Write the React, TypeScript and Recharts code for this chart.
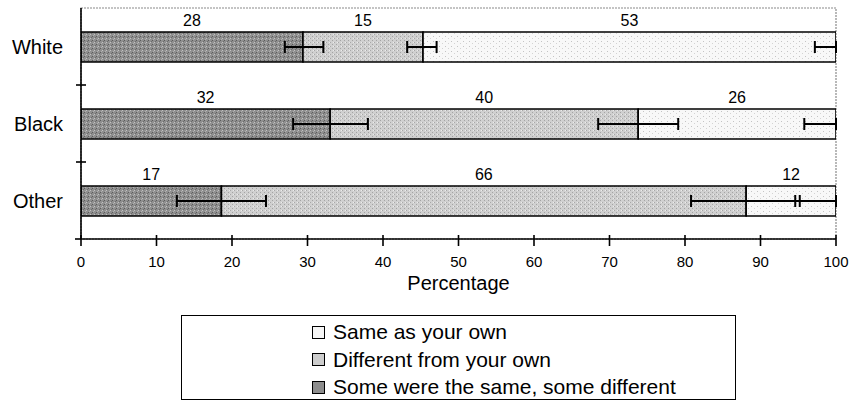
import React from 'react';
import { BarChart, Bar, XAxis, YAxis, ErrorBar, LabelList, ReferenceArea } from 'recharts';

const categories = ['White', 'Black', 'Other'];
const seriesNames = ['Some were the same, some different', 'Different from your own', 'Same as your own'];
// plotted share (%) of each segment
const someSame = [29.4, 33.0, 18.6];
const different = [15.9, 40.8, 69.5];
const sameAsOwn = [54.7, 26.2, 11.9];
// numbers printed above each segment
const someSameLabels = [28, 32, 17];
const differentLabels = [15, 40, 66];
const sameAsOwnLabels = [53, 26, 12];
// error bar extents [minus, plus] around each segment end
const someSameErr = [[2.4, 2.7], [4.9, 5.0], [5.9, 5.9]];
const differentErr = [[2.1, 1.8], [5.3, 5.3], [7.3, 7.1]];
const sameAsOwnErr = [[2.8, 0], [4.2, 0], [5.4, 0]];
const xTicks = [0, 10, 20, 30, 40, 50, 60, 70, 80, 90, 100];

const data = categories.map((name, i) => ({
  name,
  s0: someSame[i],
  s1: different[i],
  s2: sameAsOwn[i],
  l0: someSameLabels[i],
  l1: differentLabels[i],
  l2: sameAsOwnLabels[i],
  e0: someSameErr[i],
  e1: differentErr[i],
  e2: sameAsOwnErr[i],
}));

const W = 850;
const H = 402;
const MARGIN = { top: 8, right: 14, left: 0, bottom: 103 };
const XAXIS_H = 60;
const YAXIS_W = 81;
const X_TICK_SIZE = 6;
const X_TICK_MARGIN = 11;
const Y_TICK_SIZE = 6;
const Y_TICK_MARGIN = 12;
const plotH = H - MARGIN.top - MARGIN.bottom - XAXIS_H;
const bandHalf = plotH / categories.length / 2;

const fills = ['url(#pDark)', 'url(#pMid)', 'url(#pLight)'];
const swatch = ['#8d8d8d', '#cdcdcd', '#f6f6f6'];

const XTick = (props: any) => {
  const { x, y, payload, index } = props;
  const axisY = y - X_TICK_SIZE - X_TICK_MARGIN;
  return (
    <g>
      <line x1={x} x2={x} y1={axisY - 4} y2={axisY + 7} stroke="#000" strokeWidth={1.6} />
      {index === 0 && <line x1={x - 6} x2={x} y1={axisY} y2={axisY} stroke="#000" strokeWidth={1.6} />}
      <text x={x} y={y} dy="0.71em" textAnchor="middle" fontSize={15} fill="#000">
        {payload.value}
      </text>
    </g>
  );
};

const YTick = (props: any) => {
  const { x, y, payload, index } = props;
  const axisX = x + Y_TICK_SIZE + Y_TICK_MARGIN;
  return (
    <g>
      <text x={x} y={y} dy="0.35em" textAnchor="end" fontSize={20} fill="#000">
        {payload.value}
      </text>
      {index > 0 && (
        <line x1={axisX - 5} x2={axisX + 5} y1={y - bandHalf} y2={y - bandHalf} stroke="#000" strokeWidth={1.6} />
      )}
    </g>
  );
};

export default function App() {
  const legendOrder = [2, 1, 0];
  return (
    <div style={{ position: 'absolute', left: 0, top: 0, width: W, height: H, background: '#fff', fontFamily: '"Liberation Sans", Arial, Helvetica, sans-serif' }}>
      <BarChart width={W} height={H} data={data} layout="vertical" margin={MARGIN} barSize={30}>
        <defs>
          <pattern id="pDark" width="4" height="4" patternUnits="userSpaceOnUse">
            <rect width="4" height="4" fill="#8f8f8f" />
            <rect x="0" y="0" width="1" height="1" fill="#5c5c5c" />
            <rect x="2" y="2" width="1" height="1" fill="#c2c2c2" />
            <rect x="3" y="1" width="1" height="1" fill="#6c6c6c" />
            <rect x="1" y="3" width="1" height="1" fill="#b0b0b0" />
          </pattern>
          <pattern id="pMid" width="4" height="4" patternUnits="userSpaceOnUse">
            <rect width="4" height="4" fill="#d0d0d0" />
            <rect x="0" y="0" width="1" height="1" fill="#a4a4a4" />
            <rect x="2" y="2" width="1" height="1" fill="#a8a8a8" />
            <rect x="1" y="2" width="1" height="1" fill="#ececec" />
          </pattern>
          <pattern id="pLight" width="6" height="5" patternUnits="userSpaceOnUse">
            <rect width="6" height="5" fill="#f8f8f8" />
            <rect x="1" y="1" width="1" height="1" fill="#c4c4c4" />
            <rect x="4" y="3" width="1" height="1" fill="#d4d4d4" />
          </pattern>
        </defs>
        <ReferenceArea x1={0} x2={100} fill="none" stroke="#8a8a8a" strokeWidth={1.2} strokeDasharray="2 1" ifOverflow="visible" />
        <XAxis
          type="number"
          domain={[0, 100]}
          ticks={xTicks}
          interval={0}
          height={XAXIS_H}
          tickSize={X_TICK_SIZE}
          tickMargin={X_TICK_MARGIN}
          tickLine={false}
          tick={<XTick />}
          axisLine={{ stroke: '#000', strokeWidth: 1.6 }}
          allowDataOverflow
          label={{ value: 'Percentage', position: 'insideBottom', offset: 9, fontSize: 20, fill: '#000' }}
        />
        <YAxis
          type="category"
          dataKey="name"
          width={YAXIS_W}
          tickSize={Y_TICK_SIZE}
          tickMargin={Y_TICK_MARGIN}
          tickLine={false}
          tick={<YTick />}
          interval={0}
          axisLine={{ stroke: '#000', strokeWidth: 1.6 }}
        />
        {['s0', 's1', 's2'].map((key, i) => (
          <Bar
            key={key}
            dataKey={key}
            name={seriesNames[i]}
            stackId="a"
            fill={fills[i]}
            stroke="#000"
            strokeWidth={1.6}
            isAnimationActive={false}
          >
            <ErrorBar dataKey={`e${i}`} direction="x" width={6} stroke="#000" strokeWidth={2} />
            <LabelList dataKey={`l${i}`} position="top" offset={6} fill="#000" fontSize={16} />
          </Bar>
        ))}
      </BarChart>
      <div
        style={{
          position: 'absolute',
          left: 181,
          top: 315,
          width: 555,
          height: 85,
          border: '1.6px solid #000',
          boxSizing: 'border-box',
        }}
      >
        {legendOrder.map((si, row) => (
          <div
            key={si}
            style={{
              position: 'absolute',
              left: 130,
              top: 16 + row * 27.5 - 14,
              height: 28,
              display: 'flex',
              alignItems: 'center',
              whiteSpace: 'nowrap',
              fontSize: 21,
              color: '#000',
            }}
          >
            <span
              style={{
                display: 'inline-block',
                width: 11,
                height: 11,
                border: '1.6px solid #000',
                background: swatch[si],
                marginRight: 8,
              }}
            />
            {seriesNames[si]}
          </div>
        ))}
      </div>
    </div>
  );
}
